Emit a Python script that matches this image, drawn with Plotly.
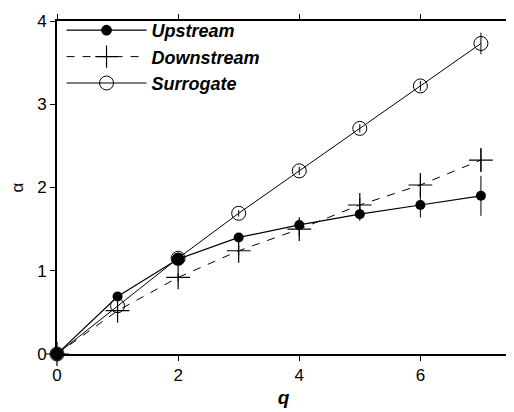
import plotly.graph_objects as go

q = [0, 1, 2, 3, 4, 5, 6, 7]
upstream = [0, 0.69, 1.14, 1.40, 1.55, 1.68, 1.79, 1.90]
upstream_err = [0, 0.02, 0.03, 0.05, 0.06, 0.08, 0.15, 0.24]
downstream = [0, 0.52, 0.92, 1.24, 1.50, 1.79, 2.03, 2.33]
downstream_err = [0, 0.05, 0.05, 0.06, 0.08, 0.08, 0.12, 0.14]
surrogate = [0, 0.58, 1.15, 1.69, 2.20, 2.71, 3.22, 3.73]
surrogate_err = [0, 0.04, 0.04, 0.04, 0.05, 0.05, 0.06, 0.13]

x_ticks = [0, 2, 4, 6]
y_ticks = [0, 1, 2, 3, 4]

font_family = "Liberation Sans, Arial, sans-serif"
upstream_marker_sizes = [13, 10, 13, 10, 10, 10, 10, 10]

fig = go.Figure()

fig.add_trace(go.Scatter(
    x=q, y=surrogate, name="Surrogate", mode="lines+markers", legendrank=3,
    line=dict(color="black", width=1),
    marker=dict(symbol="circle-open", size=14, color="black", opacity=1, line=dict(color="black", width=1)),
    error_y=dict(type="data", array=surrogate_err, color="black", thickness=1, width=0),
    cliponaxis=False,
))
fig.add_trace(go.Scatter(
    x=q, y=downstream, name="Downstream", mode="lines+markers", legendrank=2,
    line=dict(color="black", width=1, dash="8px,8px"),
    marker=dict(symbol="cross-thin-open", size=17, color="black", opacity=1, line=dict(color="black", width=1.2)),
    error_y=dict(type="data", array=downstream_err, color="black", thickness=1, width=0),
    cliponaxis=False,
))
fig.add_trace(go.Scatter(
    x=q, y=upstream, name="Upstream", mode="lines+markers", legendrank=1,
    line=dict(color="black", width=1.2),
    marker=dict(symbol="circle", size=upstream_marker_sizes, color="black", opacity=1,
                line=dict(width=0)),
    error_y=dict(type="data", array=upstream_err, color="black", thickness=1, width=0),
    cliponaxis=False,
))

axis_common = dict(
    showgrid=False, zeroline=False, showline=True, linecolor="black", linewidth=1.8,
    mirror="ticks", ticks="outside", ticklen=5, tickwidth=1.2, tickcolor="black",
    automargin=False,
    tickfont=dict(family=font_family, size=17, color="black"),
)

fig.update_layout(
    width=506, height=404,
    margin=dict(l=49, r=4, t=7, b=58),
    paper_bgcolor="white", plot_bgcolor="white",
    font=dict(family=font_family, color="black"),
    showlegend=True,
    legend=dict(
        x=0.010, y=1.027, xanchor="left", yanchor="top",
        bgcolor="rgba(0,0,0,0)", borderwidth=0,
        font=dict(family=font_family, size=18, color="black", weight="bold", style="italic"),
        tracegroupgap=0, itemsizing="trace", itemwidth=80, traceorder="normal",
    ),
    xaxis=dict(range=[0, 7.48], tickvals=x_ticks, ticktext=[str(v) for v in x_ticks],
               title=dict(text="q", font=dict(family=font_family, size=19, weight="bold", style="italic"), standoff=6),
               **axis_common),
    yaxis=dict(range=[0, 4], tickvals=y_ticks, ticktext=[str(v) for v in y_ticks],
               title=dict(text="α", font=dict(family=font_family, size=17), standoff=10),
               **axis_common),
)

fig.write_html("out.html")
